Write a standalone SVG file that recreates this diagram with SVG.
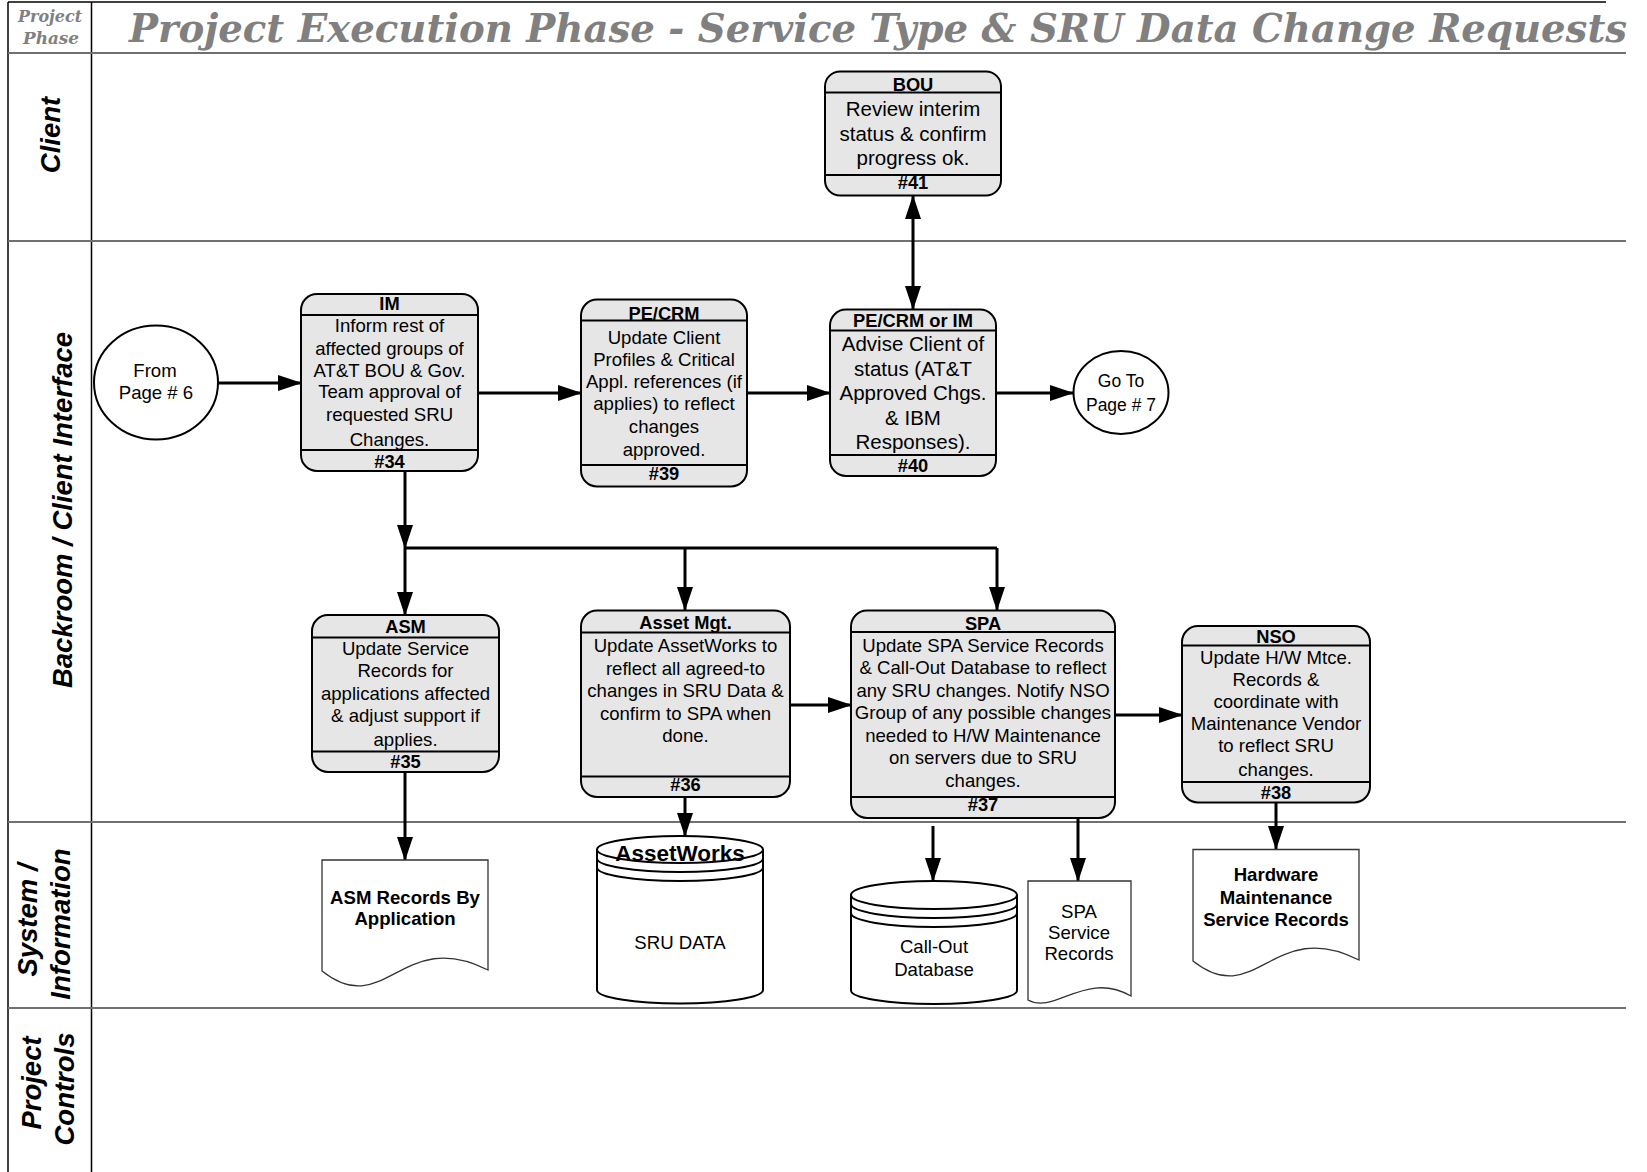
<svg xmlns="http://www.w3.org/2000/svg" width="1647" height="1172" viewBox="0 0 1647 1172">
<defs>
<marker id="ah" viewBox="0 0 24 16" markerWidth="24" markerHeight="16" refX="23" refY="8" orient="auto-start-reverse" markerUnits="userSpaceOnUse"><path d="M0,0 L24,8 L0,16 z" fill="#000"/></marker>
<style>
.lane{stroke:#707070;stroke-width:2;fill:none}
.bord{stroke:#000;stroke-width:1.5;fill:none}
.box{fill:#e6e6e6;stroke:#000;stroke-width:2}
.sep{stroke:#000;stroke-width:2}
.t{font-family:"Liberation Sans",Arial,sans-serif;font-size:18.6px;text-anchor:middle;fill:#000}
.b{font-weight:bold;font-size:18.3px}
.db{font-weight:bold}
.f20{font-size:20.5px}
.f17{font-size:17.5px}
.f22{font-size:22.5px}
.lbl{font-family:"Liberation Sans",Arial,sans-serif;font-size:27.5px;font-weight:bold;font-style:italic;text-anchor:middle;fill:#000}
.ttl{font-family:"DejaVu Serif","Liberation Serif",serif;font-weight:bold;font-style:italic;fill:#808080}
.conn{stroke:#000;stroke-width:3;fill:none}
.doc{fill:#fff;stroke:#333;stroke-width:1.3}
.cyl{fill:#fff;stroke:#000;stroke-width:2}
.arc{fill:none;stroke:#000;stroke-width:2}
.circ{fill:#fff;stroke:#000;stroke-width:2}
</style>
</defs>
<rect width="1647" height="1172" fill="#fff"/>
<g id="frame">
<line class="bord" x1="8" y1="2" x2="1606" y2="2"/>
<line class="bord" x1="8" y1="2" x2="8" y2="1172"/>
<line class="bord" x1="91.5" y1="2" x2="91.5" y2="1172"/>
<line class="lane" x1="8" y1="53" x2="1626" y2="53"/>
<line class="lane" x1="8" y1="241" x2="1626" y2="241"/>
<line class="lane" x1="8" y1="822" x2="1626" y2="822"/>
<line class="lane" x1="8" y1="1008" x2="1626" y2="1008"/>
<text class="ttl" x="50" y="22" font-size="17" text-anchor="middle" textLength="64" lengthAdjust="spacingAndGlyphs">Project</text>
<text class="ttl" x="51" y="44" font-size="17" text-anchor="middle" textLength="56" lengthAdjust="spacingAndGlyphs">Phase</text>
<text class="ttl" x="129" y="42" font-size="39" textLength="1498" lengthAdjust="spacingAndGlyphs">Project Execution Phase - Service Type &amp; SRU Data Change Requests</text>
<text class="lbl" transform="translate(60,135) rotate(-90)">Client</text>
<text class="lbl" transform="translate(72,510) rotate(-90)">Backroom / Client Interface</text>
<text class="lbl" transform="translate(37,920) rotate(-90)">System /</text>
<text class="lbl" transform="translate(70,924) rotate(-90)">Information</text>
<text class="lbl" transform="translate(41,1083) rotate(-90)">Project</text>
<text class="lbl" transform="translate(74,1089) rotate(-90)">Controls</text>
</g>
<g id="connectors">
<line class="conn" x1="218" y1="383" x2="301" y2="383" marker-end="url(#ah)"/>
<line class="conn" x1="478" y1="393" x2="581" y2="393" marker-end="url(#ah)"/>
<line class="conn" x1="747" y1="393" x2="830" y2="393" marker-end="url(#ah)"/>
<line class="conn" x1="996" y1="393" x2="1073" y2="393" marker-end="url(#ah)"/>
<line class="conn" x1="913" y1="196" x2="913" y2="309" marker-start="url(#ah)" marker-end="url(#ah)"/>
<line class="conn" x1="405" y1="471" x2="405" y2="548" marker-end="url(#ah)"/>
<line class="conn" x1="405" y1="548" x2="997" y2="548"/>
<line class="conn" x1="405" y1="548" x2="405" y2="615" marker-end="url(#ah)"/>
<line class="conn" x1="685" y1="548" x2="685" y2="610" marker-end="url(#ah)"/>
<line class="conn" x1="997" y1="548" x2="997" y2="610" marker-end="url(#ah)"/>
<line class="conn" x1="790" y1="705" x2="851" y2="705" marker-end="url(#ah)"/>
<line class="conn" x1="1115" y1="715" x2="1182" y2="715" marker-end="url(#ah)"/>
<line class="conn" x1="405" y1="772" x2="405" y2="860" marker-end="url(#ah)"/>
<line class="conn" x1="685" y1="797" x2="685" y2="836" marker-end="url(#ah)"/>
<line class="conn" x1="933" y1="826" x2="933" y2="881" marker-end="url(#ah)"/>
<line class="conn" x1="1078" y1="818" x2="1078" y2="881" marker-end="url(#ah)"/>
<line class="conn" x1="1276" y1="802" x2="1276" y2="849" marker-end="url(#ah)"/>
</g>
<g id="from6">
<ellipse class="circ" cx="156" cy="382.5" rx="62" ry="57"/>
<text class="t" x="155" y="377">From</text>
<text class="t" x="156" y="399">Page # 6</text>
</g>
<g id="goto7">
<ellipse class="circ" cx="1121" cy="392.5" rx="47.5" ry="41.5"/>
<text class="t f17" x="1121" y="387">Go To</text>
<text class="t f17" x="1121" y="410.5">Page # 7</text>
</g>
<g id="n41">
<rect class="box" x="825" y="71.5" width="176" height="124" rx="15"/>
<line class="sep" x1="825" y1="92.5" x2="1001" y2="92.5"/>
<line class="sep" x1="825" y1="175" x2="1001" y2="175"/>
<text class="t b" x="913" y="90.5">BOU</text>
<text class="t f20" x="913" y="116">Review interim</text>
<text class="t f20" x="913" y="140.5">status &amp; confirm</text>
<text class="t f20" x="913" y="165">progress ok.</text>
<text class="t b" x="913" y="189">#41</text>
</g>
<g id="n34">
<rect class="box" x="301" y="294" width="177" height="177" rx="16"/>
<line class="sep" x1="301" y1="315" x2="478" y2="315"/>
<line class="sep" x1="301" y1="450" x2="478" y2="450"/>
<text class="t b" x="389.5" y="310">IM</text>
<text class="t" x="389.5" y="332">Inform rest of</text>
<text class="t" x="389.5" y="354.5">affected groups of</text>
<text class="t" x="389.5" y="376.5">AT&amp;T BOU &amp; Gov.</text>
<text class="t" x="389.5" y="398">Team approval of</text>
<text class="t" x="389.5" y="420.5">requested SRU</text>
<text class="t" x="389.5" y="445.5">Changes.</text>
<text class="t b" x="389.5" y="467.5">#34</text>
</g>
<g id="n39">
<rect class="box" x="581" y="299.5" width="166" height="187" rx="16"/>
<line class="sep" x1="581" y1="320.5" x2="747" y2="320.5"/>
<line class="sep" x1="581" y1="465" x2="747" y2="465"/>
<text class="t b" x="664" y="320">PE/CRM</text>
<text class="t" x="664" y="343.5">Update Client</text>
<text class="t" x="664" y="365.5">Profiles &amp; Critical</text>
<text class="t" x="664" y="387.8">Appl. references (if</text>
<text class="t" x="664" y="410.2">applies) to reflect</text>
<text class="t" x="664" y="432.8">changes</text>
<text class="t" x="664" y="456.2">approved.</text>
<text class="t b" x="664" y="479.5">#39</text>
</g>
<g id="n40">
<rect class="box" x="830" y="309.5" width="166" height="166.5" rx="16"/>
<line class="sep" x1="830" y1="330.5" x2="996" y2="330.5"/>
<line class="sep" x1="830" y1="455" x2="996" y2="455"/>
<text class="t b" x="913" y="326.5">PE/CRM or IM</text>
<text class="t f20" x="913" y="351">Advise Client of</text>
<text class="t f20" x="913" y="375.5">status (AT&amp;T</text>
<text class="t f20" x="913" y="400">Approved Chgs.</text>
<text class="t f20" x="913" y="424.5">&amp; IBM</text>
<text class="t f20" x="913" y="449">Responses).</text>
<text class="t b" x="913" y="471.5">#40</text>
</g>
<g id="n35">
<rect class="box" x="312" y="615" width="187" height="157" rx="16"/>
<line class="sep" x1="312" y1="637.5" x2="499" y2="637.5"/>
<line class="sep" x1="312" y1="751.5" x2="499" y2="751.5"/>
<text class="t b" x="405.5" y="632.5">ASM</text>
<text class="t" x="405.5" y="654.5">Update Service</text>
<text class="t" x="405.5" y="677">Records for</text>
<text class="t" x="405.5" y="699.5">applications affected</text>
<text class="t" x="405.5" y="722">&amp; adjust support if</text>
<text class="t" x="405.5" y="746">applies.</text>
<text class="t b" x="405.5" y="767.5">#35</text>
</g>
<g id="n36">
<rect class="box" x="581" y="610.5" width="209" height="186.5" rx="16"/>
<line class="sep" x1="581" y1="632.5" x2="790" y2="632.5"/>
<line class="sep" x1="581" y1="776.5" x2="790" y2="776.5"/>
<text class="t b" x="685.5" y="629">Asset Mgt.</text>
<text class="t" x="685.5" y="652.3">Update AssetWorks to</text>
<text class="t" x="685.5" y="675">reflect all agreed-to</text>
<text class="t" x="685.5" y="697.3">changes in SRU Data &amp;</text>
<text class="t" x="685.5" y="720">confirm to SPA when</text>
<text class="t" x="685.5" y="742.3">done.</text>
<text class="t b" x="685.5" y="790.5">#36</text>
</g>
<g id="n37">
<rect class="box" x="851" y="610.5" width="264" height="207.5" rx="16"/>
<line class="sep" x1="851" y1="632" x2="1115" y2="632"/>
<line class="sep" x1="851" y1="797" x2="1115" y2="797"/>
<text class="t b" x="983" y="629.5">SPA</text>
<text class="t" x="983" y="651.5">Update SPA Service Records</text>
<text class="t" x="983" y="674">&amp; Call-Out Database to reflect</text>
<text class="t" x="983" y="696.5">any SRU changes. Notify NSO</text>
<text class="t" x="983" y="719">Group of any possible changes</text>
<text class="t" x="983" y="741.5">needed to H/W Maintenance</text>
<text class="t" x="983" y="764">on servers due to SRU</text>
<text class="t" x="983" y="786.5">changes.</text>
<text class="t b" x="983" y="811">#37</text>
</g>
<g id="n38">
<rect class="box" x="1182" y="626" width="188" height="176.5" rx="16"/>
<line class="sep" x1="1182" y1="645.5" x2="1370" y2="645.5"/>
<line class="sep" x1="1182" y1="782" x2="1370" y2="782"/>
<text class="t b" x="1276" y="642.5">NSO</text>
<text class="t" x="1276" y="664">Update H/W Mtce.</text>
<text class="t" x="1276" y="685.5">Records &amp;</text>
<text class="t" x="1276" y="707.5">coordinate with</text>
<text class="t" x="1276" y="729.5">Maintenance Vendor</text>
<text class="t" x="1276" y="751.5">to reflect SRU</text>
<text class="t" x="1276" y="775.5">changes.</text>
<text class="t b" x="1276" y="798.5">#38</text>
</g>
<g id="asmrec">
<path class="doc" d="M322,860 H488 V970 C402,926 385,1021 322,971 Z"/>
<text class="t db" x="405" y="903.5">ASM Records By</text>
<text class="t db" x="405" y="924.5">Application</text>
</g>
<g id="assetworks">
<path class="cyl" d="M597,849.5 V990 A83,13.5 0 0 0 763,990 V849.5"/>
<ellipse class="cyl" cx="680" cy="849.5" rx="83" ry="13.5"/>
<path class="arc" d="M597,858.5 A83,13.5 0 0 0 763,858.5 M597,867.5 A83,13.5 0 0 0 763,867.5"/>
<text class="t db f22" x="680" y="861">AssetWorks</text>
<text class="t" x="680" y="949">SRU DATA</text>
</g>
<g id="callout">
<path class="cyl" d="M851,895 V990.5 A83,13.5 0 0 0 1017,990.5 V895"/>
<ellipse class="cyl" cx="934" cy="895" rx="83" ry="14"/>
<path class="arc" d="M851,904 A83,14 0 0 0 1017,904 M851,913 A83,14 0 0 0 1017,913"/>
<text class="t" x="934" y="953">Call-Out</text>
<text class="t" x="934" y="975.5">Database</text>
</g>
<g id="sparec">
<path class="doc" d="M1028,881 H1131 V996 C1085,970 1055,1015 1028,1000 Z"/>
<text class="t" x="1079" y="918">SPA</text>
<text class="t" x="1079" y="939">Service</text>
<text class="t" x="1079" y="960">Records</text>
</g>
<g id="hwrec">
<path class="doc" d="M1193,849.5 H1359 V960 C1273,916 1256,1011 1193,961 Z"/>
<text class="t db" x="1276" y="881">Hardware</text>
<text class="t db" x="1276" y="903.5">Maintenance</text>
<text class="t db" x="1276" y="925.5">Service Records</text>
</g>
</svg>
